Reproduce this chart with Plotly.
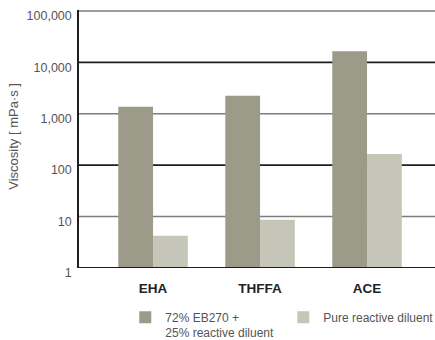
import plotly.graph_objects as go

# Viscosity of EB270 blends vs. the pure reactive diluents (log scale)
categories = ["EHA", "THFFA", "ACE"]
blend_values = [1370, 2240, 16400]      # 72% EB270 + 25% reactive diluent
pure_values = [4.2, 8.6, 164]           # pure reactive diluent
tick_values = [1, 10, 100, 1000, 10000, 100000]
tick_labels = ["1", "10", "100", "1,000", "10,000", "100,000"]

dark = "#9c9b89"
light = "#c5c6b7"
font_family = "Liberation Sans, Arial, sans-serif"
x_pos = list(range(len(categories)))
bar_w = 0.325

fig = go.Figure()
fig.add_trace(go.Bar(
    x=x_pos, y=blend_values, width=bar_w, offset=-bar_w,
    marker=dict(color=dark, line=dict(width=0)),
    name="72% EB270 +<br>25% reactive diluent",
))
fig.add_trace(go.Bar(
    x=x_pos, y=pure_values, width=bar_w, offset=0,
    marker=dict(color=light, line=dict(width=0)),
    name="Pure reactive diluent",
))

# horizontal rules at each decade, alternating grey and near-black
for i, v in enumerate(tick_values[1:]):
    fig.add_shape(
        type="line", xref="paper", yref="y", x0=0, x1=1, y0=v, y1=v,
        line=dict(color="#7d7d7d" if i % 2 == 0 else "#1e1e1e", width=1.6),
        layer="below",
    )

fig.add_annotation(
    text="Viscosity [ mPa·s ]", textangle=-90, xref="paper", yref="paper",
    x=-0.183, y=0.512, xanchor="center", yanchor="middle", showarrow=False,
    font=dict(family=font_family, size=13, color="#555"),
)

fig.update_layout(
    width=435, height=340,
    margin=dict(l=79, r=0, t=10, b=72, autoexpand=False),
    paper_bgcolor="white", plot_bgcolor="white",
    font=dict(family=font_family, size=12, color="#444"),
    showlegend=True,
    legend=dict(
        orientation="h", x=0.13, y=-0.135, xanchor="left", yanchor="top",
        valign="top", font=dict(size=12, color="#555"),
        itemclick=False, traceorder="normal", entrywidth=113,
    ),
    xaxis=dict(
        range=[-0.692, 2.635], tickvals=x_pos, ticktext=categories,
        showgrid=False, zeroline=False, showline=False, ticks="",
        tickfont=dict(family=font_family, size=13.5, color="#222", weight="bold"),
        ticklabelstandoff=10,
    ),
    yaxis=dict(
        type="log", range=[-0.003, 5.02], tickvals=tick_values, ticktext=tick_labels,
        showgrid=False, zeroline=False, showline=True, linecolor="#1e1e1e",
        linewidth=1.5, ticks="", ticklabelstandoff=3, ticklabelshift=5,
        ticklabeloverflow="allow",
        tickfont=dict(family=font_family, size=12.5, color="#555"),
    ),
)

# bottom axis line drawn on top of bar bases
fig.add_shape(type="line", xref="paper", yref="y", x0=0, x1=1, y0=1, y1=1,
              line=dict(color="#1e1e1e", width=1.5))

fig.write_html("out.html")
